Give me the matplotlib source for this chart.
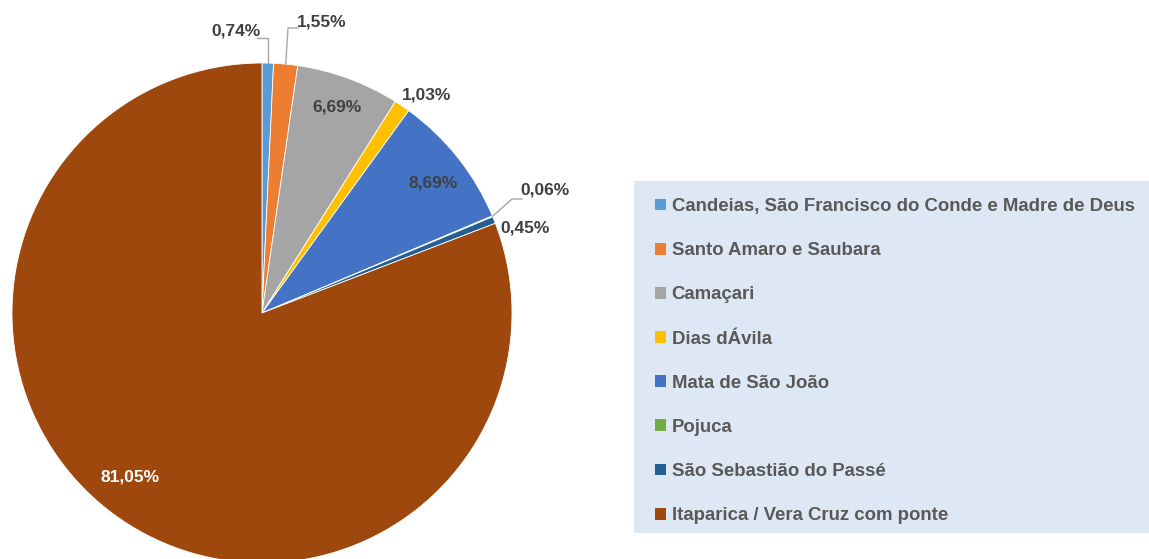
import numpy as np
import matplotlib
matplotlib.use("Agg")
import matplotlib.pyplot as plt
from matplotlib.patches import Rectangle

# ---------------- data ----------------
categories = [
    "Candeias, São Francisco do Conde e Madre de Deus",
    "Santo Amaro e Saubara",
    "Camaçari",
    "Dias dÁvila",
    "Mata de São João",
    "Pojuca",
    "São Sebastião do Passé",
    "Itaparica / Vera Cruz com ponte",
]
values = [0.74, 1.55, 6.69, 1.03, 8.69, 0.06, 0.45, 81.05]
value_labels = ["0,74%", "1,55%", "6,69%", "1,03%", "8,69%", "0,06%", "0,45%", "81,05%"]

# ---------------- style / layout ----------------
colors = ["#5b9bd5", "#ed7d31", "#a5a5a5", "#ffc000",
          "#4472c4", "#70ad47", "#255e91", "#9e480e"]
W, H = 1149, 559
CX, CY, R = 262, 313, 250          # pie centre / radius in pixels (top-origin)
label_pos = [(236, 31), (322, 22), (337, 107), (427, 95),
             (433, 183), (545, 190), (525, 228), (130, 477)]
label_colors = ["#404040"] * 7 + ["white"]
# leader lines: elbow points (top-origin pixels) for labels that have one
leaders = {0: [(None, 38), (257, 38)],
           1: [(288, 28), (298, 28)],
           5: [(512, 199), (522, 199)]}

plt.rcParams["font.family"] = ["Liberation Sans", "DejaVu Sans"]

fig = plt.figure(figsize=(W / 100, H / 100), dpi=100)
ax = fig.add_axes([0, 0, 1, 1])
wedges, _ = ax.pie(values, colors=colors, startangle=90, counterclock=False,
                   center=(CX, H - CY), radius=R,
                   wedgeprops=dict(edgecolor="white", linewidth=0.6))
ax.set_xlim(0, W)
ax.set_ylim(0, H)
ax.set_aspect("equal")
ax.axis("off")

for i, (txt, (x, y)) in enumerate(zip(value_labels, label_pos)):
    ax.text(x, H - y, txt, ha="center", va="center", fontsize=12.5,
            fontweight="bold", color=label_colors[i], zorder=5)
    if i in leaders:
        w = wedges[i]
        mid = np.deg2rad((w.theta1 + w.theta2) / 2)
        ex = CX + R * np.cos(mid)
        ey = (H - CY) + R * np.sin(mid)
        pts = [(ex, ey)]
        for (px, py) in leaders[i]:
            pts.append((ex if px is None else px, H - py))
        xs, ys = zip(*pts)
        ax.plot(xs, ys, color="#a6a6a6", lw=1, zorder=4)

# legend background
ax.add_patch(Rectangle((634, H - 533), W - 634, 533 - 181,
                       facecolor="#dee7f4", edgecolor="none", zorder=0))
leg = ax.legend(wedges, categories, loc="upper left",
                bbox_to_anchor=(655 / W, 1 - 198 / H), bbox_transform=fig.transFigure,
                frameon=False, fontsize=13.4, handlelength=0.6, handleheight=0.6,
                handletextpad=0.3, labelspacing=1.46, borderpad=0, borderaxespad=0)
leg.set_zorder(10)
for t in leg.get_texts():
    t.set_color("#595959")
    t.set_fontweight("bold")
for h in leg.legend_handles:
    h.set_edgecolor("none")

fig.savefig("out.png", dpi=100)
